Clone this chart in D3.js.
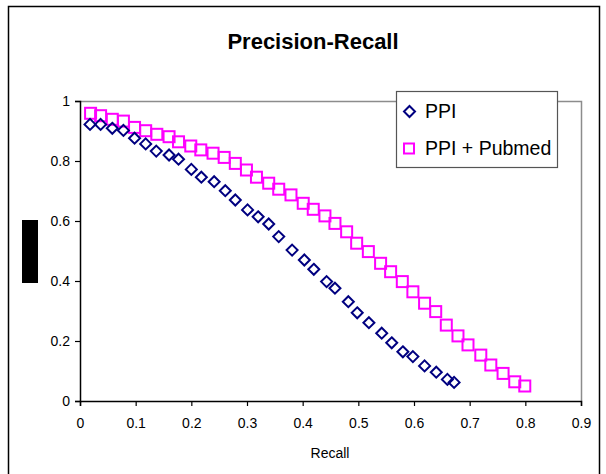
<!DOCTYPE html>
<html>
<head>
<meta charset="utf-8">
<script src="https://cdn.jsdelivr.net/npm/d3@7"></script>
<style>
  html, body { margin: 0; padding: 0; background: #fff; }
  svg { display: block; font-family: "Liberation Sans", Arial, sans-serif; }
</style>
</head>
<body>
<svg id="chart" width="606" height="474"></svg>
<script>
// ---- data ----
const chartTitle = "Precision-Recall";
const xAxisLabel = "Recall";
const seriesNames = ["PPI", "PPI + Pubmed"];

const ppiRecall = [0.018, 0.037, 0.058, 0.078, 0.098, 0.118, 0.137, 0.160, 0.177, 0.200,
  0.218, 0.241, 0.261, 0.279, 0.301, 0.320, 0.339, 0.357, 0.381, 0.403,
  0.420, 0.443, 0.458, 0.482, 0.498, 0.519, 0.542, 0.560, 0.580, 0.598,
  0.619, 0.640, 0.660, 0.672];
const ppiPrecision = [0.922, 0.922, 0.909, 0.902, 0.876, 0.857, 0.833, 0.820, 0.806, 0.772,
  0.746, 0.731, 0.701, 0.670, 0.637, 0.614, 0.590, 0.548, 0.503, 0.470,
  0.439, 0.398, 0.376, 0.331, 0.294, 0.261, 0.226, 0.194, 0.164, 0.148,
  0.117, 0.096, 0.072, 0.062];

const pubRecall = [0.019, 0.037, 0.058, 0.078, 0.098, 0.118, 0.138, 0.160, 0.177, 0.199,
  0.217, 0.239, 0.259, 0.279, 0.299, 0.317, 0.339, 0.357, 0.379, 0.401,
  0.419, 0.440, 0.458, 0.479, 0.497, 0.518, 0.540, 0.558, 0.579, 0.598,
  0.619, 0.639, 0.658, 0.679, 0.697, 0.720, 0.738, 0.760, 0.781, 0.799];
const pubPrecision = [0.959, 0.951, 0.939, 0.933, 0.912, 0.901, 0.889, 0.881, 0.864, 0.850,
  0.837, 0.826, 0.812, 0.792, 0.770, 0.746, 0.726, 0.706, 0.687, 0.659,
  0.639, 0.617, 0.592, 0.564, 0.526, 0.498, 0.459, 0.431, 0.398, 0.364,
  0.326, 0.298, 0.253, 0.217, 0.187, 0.153, 0.120, 0.092, 0.064, 0.050];

const xTicks = [0, 0.1, 0.2, 0.3, 0.4, 0.5, 0.6, 0.7, 0.8, 0.9];
const yTicks = [0, 0.2, 0.4, 0.6, 0.8, 1];

// ---- layout ----
const svg = d3.select("#chart");
const plot = { left: 80, right: 581, top: 101, bottom: 401 };
const x = d3.scaleLinear().domain([0, 0.9]).range([plot.left, plot.right]);
const y = d3.scaleLinear().domain([0, 1]).range([plot.bottom, plot.top]);

// outer frame
svg.append("rect").attr("x", 8.5).attr("y", 6.5).attr("width", 591).attr("height", 480)
  .attr("fill", "none").attr("stroke", "#000").attr("stroke-width", 1.5);

// redaction block (y-axis title hidden)
svg.append("rect").attr("x", 22).attr("y", 220).attr("width", 16).attr("height", 63).attr("fill", "#000");

// plot area border (gray top & right)
svg.append("path")
  .attr("d", `M${plot.left},${plot.top + 0.5}H${plot.right + 0.5}V${plot.bottom}`)
  .attr("fill", "none").attr("stroke", "#8c8c8c").attr("stroke-width", 1.5);

// title
svg.append("text").attr("x", 313).attr("y", 49).attr("text-anchor", "middle")
  .attr("font-weight", "bold").attr("font-size", 22).text(chartTitle);

// axes
const xAxis = d3.axisBottom(x).tickValues(xTicks).tickSizeOuter(0).tickSize(5).tickPadding(12)
  .tickFormat(d3.format("~g"));
const gx = svg.append("g").attr("transform", `translate(0,${plot.bottom})`).call(xAxis);
const yAxis = d3.axisLeft(y).tickValues(yTicks).tickSizeOuter(0).tickSize(5).tickPadding(5)
  .tickFormat(d3.format("~g"));
const gy = svg.append("g").attr("transform", `translate(${plot.left},0)`).call(yAxis);
[gx, gy].forEach(g => {
  g.selectAll("path").attr("stroke", "#000").attr("stroke-width", 1.5);
  g.selectAll("line").attr("stroke", "#000").attr("stroke-width", 1.2);
  g.selectAll("text").attr("font-size", 14).attr("fill", "#000")
    .attr("font-family", "'Liberation Sans', Arial, sans-serif");
});

// x axis label
svg.append("text").attr("x", 330).attr("y", 458).attr("text-anchor", "middle")
  .attr("font-size", 14).text(xAxisLabel);

// markers
const diamond = (cx, cy, r) => `M${cx},${cy - r}L${cx + r},${cy}L${cx},${cy + r}L${cx - r},${cy}Z`;
const ppiData = ppiRecall.map((r, i) => ({ r, p: ppiPrecision[i] }));
const pubData = pubRecall.map((r, i) => ({ r, p: pubPrecision[i] }));

svg.append("g").selectAll("rect").data(pubData).join("rect")
  .attr("x", d => x(d.r) - 5.5).attr("y", d => y(d.p) - 5.5)
  .attr("width", 11).attr("height", 11)
  .attr("fill", "none").attr("stroke", "#ff00ff").attr("stroke-width", 2);

svg.append("g").selectAll("path").data(ppiData).join("path")
  .attr("d", d => diamond(x(d.r), y(d.p), 5.5))
  .attr("fill", "none").attr("stroke", "#000080").attr("stroke-width", 2);

// legend
const lg = svg.append("g");
lg.append("rect").attr("x", 396.5).attr("y", 91.5).attr("width", 161).attr("height", 76)
  .attr("fill", "#fff").attr("stroke", "#555").attr("stroke-width", 1.2);
lg.append("path").attr("d", diamond(409.5, 111.5, 5.5))
  .attr("fill", "none").attr("stroke", "#000080").attr("stroke-width", 2);
lg.append("rect").attr("x", 404).attr("y", 143.5).attr("width", 10).attr("height", 10)
  .attr("fill", "none").attr("stroke", "#ff00ff").attr("stroke-width", 2);
lg.append("text").attr("x", 425).attr("y", 118).attr("font-size", 19.5).text(seriesNames[0]);
lg.append("text").attr("x", 425).attr("y", 155).attr("font-size", 19.5).text(seriesNames[1]);
</script>
</body>
</html>
